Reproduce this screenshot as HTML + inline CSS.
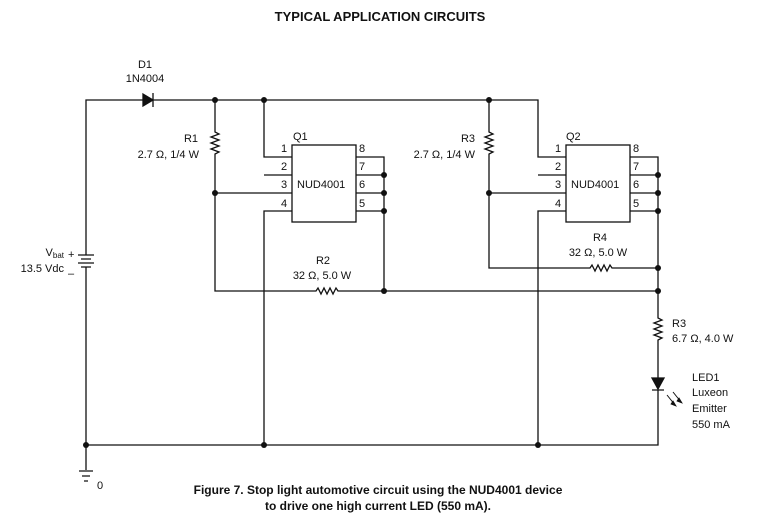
<!DOCTYPE html>
<html><head><style>
body{margin:0;background:#fff;width:758px;height:527px;overflow:hidden}
svg{display:block}
text{font-family:"Liberation Sans",sans-serif;font-size:11px;fill:#111}
.b{font-weight:bold;font-size:12px}
</style></head><body>
<svg width="758" height="527" viewBox="0 0 758 527" stroke="#111" stroke-width="1.3" fill="none">
<text class="b" x="380" y="21" text-anchor="middle" stroke="none" style="font-size:13px">TYPICAL APPLICATION CIRCUITS</text>
<path d="M86 445 V270 M86 252 V100 H143 M153 100 H538 V157 H566"/>
<path d="M143 94 L153 100 L143 106 Z" fill="#111"/>
<path d="M153 93 V107"/>
<path d="M86 252 V255 M78 255 H94 M81 259 H91 M78 263 H94 M81 267 H91 M86 267 V270"/>
<path d="M215 100 V132 l4 2 -8 3 8 3 -8 3 8 3 -8 3 8 3 -4 2 V291 H316 l2 -3 3 6 3 -6 3 6 3 -6 3 6 3 -6 2 3 H658"/>
<path d="M215 193 H292 M264 100 V157 H292 M264 175 H292 M264 445 V211 H292"/>
<rect x="292" y="145" width="64" height="77"/>
<path d="M356 157 H384 V291 M356 175 H384 M356 193 H384 M356 211 H384"/>
<path d="M489 100 V132 l4 2 -8 3 8 3 -8 3 8 3 -8 3 8 3 -4 2 V268 H590 l2 -3 3 6 3 -6 3 6 3 -6 3 6 3 -6 2 3 H658"/>
<path d="M489 193 H566 M538 175 H566 M538 445 V211 H566"/>
<rect x="566" y="145" width="64" height="77"/>
<path d="M630 157 H658 V318 l4 2 -8 3 8 3 -8 3 8 3 -8 3 8 3 -4 2 V378 M630 175 H658 M630 193 H658 M630 211 H658"/>
<path d="M652 378 H664 L658 389 Z" fill="#111"/>
<path d="M652 390 H664 M658 390 V445 H86 V470"/>
<path d="M667 395 l8 10 M673 392 l8 10" stroke-width="1"/>
<path d="M673 401 l3 5 -5 -2 Z M679 398 l3 5 -5 -2 Z" fill="#111" stroke-width="0.8"/>
<path d="M79 471 H93 M82 476 H90 M84 481 H88"/>
<g fill="#111" stroke="none">
<circle cx="215" cy="100" r="3"/><circle cx="264" cy="100" r="3"/><circle cx="489" cy="100" r="3"/>
<circle cx="215" cy="193" r="3"/><circle cx="489" cy="193" r="3"/>
<circle cx="384" cy="175" r="3"/><circle cx="384" cy="193" r="3"/><circle cx="384" cy="211" r="3"/><circle cx="384" cy="291" r="3"/>
<circle cx="658" cy="175" r="3"/><circle cx="658" cy="193" r="3"/><circle cx="658" cy="211" r="3"/><circle cx="658" cy="268" r="3"/><circle cx="658" cy="291" r="3"/>
<circle cx="86" cy="445" r="3"/><circle cx="264" cy="445" r="3"/><circle cx="538" cy="445" r="3"/>
</g>
<g stroke="none">
<text x="145" y="68" text-anchor="middle">D1</text>
<text x="145" y="82" text-anchor="middle">1N4004</text>
<text x="198" y="142" text-anchor="end">R1</text>
<text x="199" y="158" text-anchor="end">2.7 Ω, 1/4 W</text>
<text x="293" y="140">Q1</text>
<text x="281" y="152">1</text><text x="281" y="170">2</text><text x="281" y="188">3</text><text x="281" y="207">4</text>
<text x="359" y="152">8</text><text x="359" y="170">7</text><text x="359" y="188">6</text><text x="359" y="207">5</text>
<text x="297" y="188">NUD4001</text>
<text x="323" y="264" text-anchor="middle">R2</text>
<text x="322" y="279" text-anchor="middle">32 Ω, 5.0 W</text>
<text x="475" y="142" text-anchor="end">R3</text>
<text x="475" y="158" text-anchor="end">2.7 Ω, 1/4 W</text>
<text x="566" y="140">Q2</text>
<text x="555" y="152">1</text><text x="555" y="170">2</text><text x="555" y="188">3</text><text x="555" y="207">4</text>
<text x="633" y="152">8</text><text x="633" y="170">7</text><text x="633" y="188">6</text><text x="633" y="207">5</text>
<text x="571" y="188">NUD4001</text>
<text x="600" y="241" text-anchor="middle">R4</text>
<text x="598" y="256" text-anchor="middle">32 Ω, 5.0 W</text>
<text x="64" y="256" text-anchor="end">V<tspan font-size="8" dy="2">bat</tspan></text>
<text x="64" y="272" text-anchor="end">13.5 Vdc</text>
<text x="68" y="258" font-size="9">+</text>
<text x="68" y="277" font-size="10">–</text>
<text x="672" y="327">R3</text>
<text x="672" y="342">6.7 Ω, 4.0 W</text>
<text x="692" y="381">LED1</text>
<text x="692" y="396">Luxeon</text>
<text x="692" y="412">Emitter</text>
<text x="692" y="428">550 mA</text>
<text x="97" y="489">0</text>
<text class="b" x="378" y="494" text-anchor="middle">Figure 7. Stop light automotive circuit using the NUD4001 device</text>
<text class="b" x="378" y="510" text-anchor="middle">to drive one high current LED (550 mA).</text>
</g>
</svg>
</body></html>
